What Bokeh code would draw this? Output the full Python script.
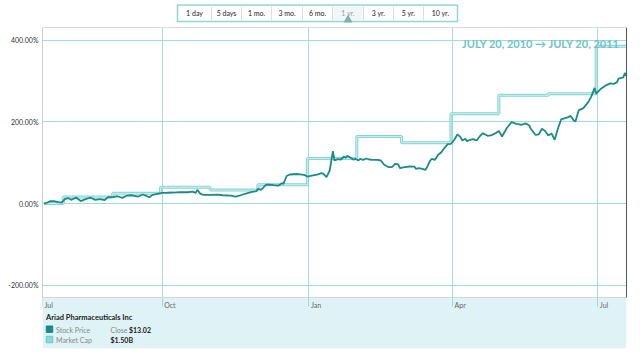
import pandas as pd
from bokeh.plotting import figure
from bokeh.models import (Range1d, FixedTicker, PrintfTickFormatter,
                          LinearAxis, Label, Span)
from bokeh.core.properties import value
from bokeh.embed import file_html
from bokeh.resources import INLINE

# ---------------- data ----------------
range_buttons = ["1 day", "5 days", "1 mo.", "3 mo.", "6 mo.", "1 yr.", "3 yr.", "5 yr.", "10 yr."]
selected_button = "1 yr."

period_title = "JULY 20, 2010 \u2192 JULY 20, 2011"
company = "Ariad Pharmaceuticals Inc"
series_names = ["Stock Price", "Market Cap"]
close_label = "Close"
close_price = "$13.02"
market_cap = "$1.50B"

price_dates = [
    "2010-07-19", "2010-07-21", "2010-07-23", "2010-07-25", "2010-07-28", "2010-07-30",
    "2010-08-01", "2010-08-03", "2010-08-05", "2010-08-08", "2010-08-11", "2010-08-14",
    "2010-08-17", "2010-08-20", "2010-08-23", "2010-08-26", "2010-08-28", "2010-08-31",
    "2010-09-03", "2010-09-06", "2010-09-09", "2010-09-12", "2010-09-16", "2010-09-19",
    "2010-09-21", "2010-09-23", "2010-09-25", "2010-09-28", "2010-10-01", "2010-10-04",
    "2010-10-08", "2010-10-12", "2010-10-17", "2010-10-20", "2010-10-22", "2010-10-23",
    "2010-10-25", "2010-10-27", "2010-10-31", "2010-11-05", "2010-11-08", "2010-11-13",
    "2010-11-16", "2010-11-19", "2010-11-24", "2010-11-27", "2010-11-29", "2010-11-30",
    "2010-12-02", "2010-12-05", "2010-12-07", "2010-12-10", "2010-12-13", "2010-12-15",
    "2010-12-16", "2010-12-18", "2010-12-20", "2010-12-25", "2010-12-29", "2010-12-31",
    "2011-01-02", "2011-01-06", "2011-01-09", "2011-01-10", "2011-01-12", "2011-01-14",
    "2011-01-16", "2011-01-17", "2011-01-19", "2011-01-21", "2011-01-23", "2011-01-24",
    "2011-01-25", "2011-01-27", "2011-01-29", "2011-01-30", "2011-02-01", "2011-02-02",
    "2011-02-04", "2011-02-06", "2011-02-08", "2011-02-10", "2011-02-13", "2011-02-15",
    "2011-02-17", "2011-02-20", "2011-02-22", "2011-02-24", "2011-02-26", "2011-02-27",
    "2011-03-02", "2011-03-05", "2011-03-08", "2011-03-09", "2011-03-11", "2011-03-13",
    "2011-03-15", "2011-03-16", "2011-03-18", "2011-03-19", "2011-03-21", "2011-03-23",
    "2011-03-25", "2011-03-27", "2011-03-29", "2011-03-31", "2011-04-02", "2011-04-04",
    "2011-04-06", "2011-04-07", "2011-04-09", "2011-04-10", "2011-04-12", "2011-04-14",
    "2011-04-16", "2011-04-18", "2011-04-20", "2011-04-23", "2011-04-25", "2011-04-28",
    "2011-04-30", "2011-05-02", "2011-05-05", "2011-05-08", "2011-05-11", "2011-05-13",
    "2011-05-14", "2011-05-17", "2011-05-19", "2011-05-20", "2011-05-23", "2011-05-25",
    "2011-05-27", "2011-05-29", "2011-05-31", "2011-06-02", "2011-06-04", "2011-06-06",
    "2011-06-08", "2011-06-12", "2011-06-14", "2011-06-16", "2011-06-17", "2011-06-19",
    "2011-06-22", "2011-06-25", "2011-06-27", "2011-06-29", "2011-06-30", "2011-07-03",
    "2011-07-06", "2011-07-09", "2011-07-11", "2011-07-13", "2011-07-14", "2011-07-17",
    "2011-07-18", "2011-07-19",
]
price_pct = [
    0.0, 2.5, 6.1, 5.8, 3.7, 2.5,
    11.0, 13.5, 9.1, 14.7, 6.1, 11.0,
    14.7, 9.1, 11.0, 8.6, 15.4, 15.9,
    17.9, 14.0, 19.6, 20.3, 17.2, 22.1,
    18.9, 15.4, 21.3, 23.8, 26.2, 26.5,
    27.0, 28.2, 27.7, 29.4, 26.2, 33.6,
    23.8, 21.3, 21.0, 22.1, 20.3, 19.6,
    17.2, 20.3, 26.2, 29.4, 30.1, 36.0,
    33.6, 45.8, 46.6, 44.9, 44.1, 49.8,
    48.3, 67.4, 71.1, 72.3, 70.3, 66.2,
    67.9, 71.1, 74.3, 72.8, 64.5, 80.9,
    128.2, 105.4, 108.6, 107.8, 115.2, 112.0,
    116.9, 112.0, 107.1, 109.6, 105.4, 109.6,
    107.1, 110.3, 107.8, 107.1, 107.0, 105.4,
    95.6, 89.0, 89.2, 97.3, 95.6, 86.5,
    89.0, 90.7, 90.5, 85.0, 86.5, 85.0,
    82.6, 89.0, 105.4, 109.6, 107.1, 119.4,
    125.7, 136.5, 145.3, 146.3, 155.6, 169.1,
    162.5, 154.4, 158.6, 152.7, 156.1, 157.6,
    154.4, 164.2, 172.3, 165.9, 166.7, 172.3,
    177.7, 164.2, 185.0, 199.3, 194.9, 193.6,
    192.4, 196.1, 191.2, 183.1, 167.9, 169.1,
    183.1, 177.7, 166.7, 171.6, 156.1, 183.1,
    205.9, 210.8, 214.5, 203.4, 201.0, 228.0,
    233.6, 248.3, 262.3, 283.1, 268.9, 281.1,
    289.2, 294.1, 292.9, 296.6, 305.6, 308.8,
    319.4, 313.7,
]

mcap_dates = ["2010-07-19", "2010-07-31", "2010-08-31", "2010-09-30", "2010-10-31",
              "2010-11-30", "2010-12-31", "2011-01-31", "2011-02-28", "2011-03-31",
              "2011-04-30", "2011-05-31", "2011-06-30", "2011-07-19"]
mcap_pct = [0, 16, 25, 40, 33, 46, 110, 164, 149, 220, 265, 269, 385, 385]

y_ticks = [-200, 0, 200, 400]
x_tick_dates = ["2010-07-18", "2010-10-01", "2011-01-01", "2011-04-01", "2011-07-01"]
x_tick_labels = ["Jul", "Oct", "Jan", "Apr", "Jul"]
x_start, x_end = "2010-07-18", "2011-07-19"
y_start, y_end = -230, 431          # the chart's plotting area

# ---------------- layout / styles ----------------
W, H = 640, 352
LEFT, RIGHT = 42, 626               # chart frame, px
TOP_BAR = 27                        # chart area starts below the range buttons
CHART_BOTTOM = 297                  # px where the legend band begins
BAND_BOTTOM = 348
FONT = "Lato"
STOCK_COLOR = "#1b8a8b"
MCAP_COLOR = "#84d3d5"
MCAP_INNER = "#d2f1f1"
GRID_COLOR = "#a3dcdd"
BAND_COLOR = "#dff2f5"
TITLE_COLOR = "#6cc3c7"


def ms(s):
    return pd.Timestamp(s).value / 1e6


# y range extended so that the plotting area [y_start, y_end] sits between
# TOP_BAR and CHART_BOTTOM while the frame covers the button bar and legend band too
ppu = (CHART_BOTTOM - TOP_BAR) / (y_end - y_start)
frame_top_val = y_end + TOP_BAR / ppu
frame_bot_val = y_start - (BAND_BOTTOM - CHART_BOTTOM) / ppu

p = figure(width=W, height=H, x_axis_type="datetime",
           x_range=Range1d(pd.Timestamp(x_start), pd.Timestamp(x_end)),
           y_range=Range1d(frame_bot_val, frame_top_val),
           toolbar_location=None, output_backend="svg",
           min_border_left=LEFT, min_border_right=W - RIGHT, min_border_top=0,
           min_border_bottom=H - BAND_BOTTOM)
p.outline_line_color = None
p.background_fill_color = "white"
p.border_fill_color = "white"
p.extra_x_ranges = {"px": Range1d(LEFT, RIGHT)}
p.extra_y_ranges = {"px": Range1d(BAND_BOTTOM, 0)}

pd_dates = pd.to_datetime(price_dates)
md_dates = pd.to_datetime(mcap_dates)

# grids
x_ticks_ms = [ms(d) for d in x_tick_dates]
p.xgrid.ticker = FixedTicker(ticks=x_ticks_ms[1:])
p.xgrid.grid_line_color = GRID_COLOR
p.ygrid.ticker = FixedTicker(ticks=y_ticks)
p.ygrid.grid_line_color = GRID_COLOR

# cover grid lines outside the plotting area (button bar and legend band)
p.quad(left=[LEFT], right=[RIGHT], top=[0], bottom=[TOP_BAR - 0.5], fill_color="white",
       line_color=None, x_range_name="px", y_range_name="px")
p.quad(left=[LEFT], right=[RIGHT], top=[CHART_BOTTOM], bottom=[BAND_BOTTOM],
       fill_color=BAND_COLOR, line_color=None, x_range_name="px", y_range_name="px")

# series
p.step(md_dates, mcap_pct, mode="after", line_color=MCAP_COLOR, line_width=3)
p.step(md_dates, mcap_pct, mode="after", line_color=MCAP_INNER, line_width=1)
p.line(pd_dates, price_pct, line_color=STOCK_COLOR, line_width=1.8)

# x axis inside the band (ticks + line); its labels sit just right of each tick
xa = p.xaxis[0]
xa.fixed_location = y_start
xa.ticker = FixedTicker(ticks=x_ticks_ms)
xa.major_label_overrides = {t: "" for t in x_ticks_ms}
xa.axis_line_color = "#cfd9d9"
xa.major_tick_out = 9
xa.major_tick_in = 0
xa.major_tick_line_color = "#9fdadb"
xa.minor_tick_out = 0
xa.minor_tick_in = 0
p.text(x=pd.to_datetime(x_tick_dates), y=[CHART_BOTTOM + 7] * len(x_tick_labels),
       text=x_tick_labels, x_offset=2, text_align="left", text_baseline="middle",
       text_font=value(FONT), text_font_size="7px", text_color="#666666",
       y_range_name="px")

ya = p.yaxis[0]
ya.bounds = (y_start, y_end)
ya.ticker = FixedTicker(ticks=y_ticks)
ya.formatter = PrintfTickFormatter(format="%.2f%%")
ya.axis_line_color = "#cccccc"
ya.major_tick_out = 0
ya.major_tick_in = 0
ya.minor_tick_out = 0
ya.minor_tick_in = 0
ya.major_label_standoff = 4
ya.major_label_text_font = FONT
ya.major_label_text_font_size = "7px"
ya.major_label_text_color = "#333333"

ra = LinearAxis(ticker=FixedTicker(ticks=[]), bounds=(y_start, y_end),
                axis_line_color="#555555",
                major_tick_out=0, major_tick_in=0, minor_tick_out=0, minor_tick_in=0,
                major_label_text_font_size="0px")
p.add_layout(ra, "right")
p.add_layout(Span(location=y_end, dimension="width", line_color="#d3e0e0", line_width=1))

p.add_layout(Label(x=ms("2011-07-15"), y=393, text=period_title, text_align="right",
                   text_baseline="alphabetic", text_font=FONT, text_font_size="11px",
                   text_font_style="bold", text_color=TITLE_COLOR))

# ---------------- range buttons ----------------
edges = [177, 211, 241, 271, 302, 332, 363, 393, 423, 457]
centers = [(a + b) / 2 for a, b in zip(edges[:-1], edges[1:])]
sel = range_buttons.index(selected_button)
kw = dict(x_range_name="px", y_range_name="px")
p.quad(left=[edges[0]], right=[edges[-1]], top=[4.5], bottom=[21],
       fill_color="white", line_color="#8fd8d9", line_width=1.5, **kw)
p.quad(left=[edges[sel] + 1], right=[edges[sel + 1] - 1], top=[6], bottom=[19.5],
       fill_color="#f3f6f6", line_color=None, **kw)
p.segment(x0=edges[1:-1], y0=[6] * 8, x1=edges[1:-1], y1=[19.5] * 8,
          line_color="#dcdcdc", line_width=1, **kw)
p.text(x=centers, y=[12.5] * len(centers), text=range_buttons,
       text_align="center", text_baseline="middle", text_font=value(FONT),
       text_font_size="7px",
       text_color=["#9a9a9a" if b == selected_button else "#222222" for b in range_buttons],
       **kw)
p.scatter(x=[centers[sel]], y=[19.3], marker="triangle", size=9,
          fill_color="#7fb0b1", line_color=None, **kw)

# ---------------- legend ----------------
p.text(x=[45.5], y=[316.7], text=[company], text_baseline="middle",
       text_font=value(FONT), text_font_size="7.5px", text_font_style="bold",
       text_color="#222222", **kw)
p.rect(x=[49, 49], y=[328.7, 339], width=6.5, height=6.5,
       fill_color=[STOCK_COLOR, "#8fd8d9"], line_color=["#167878", "#5fbfc1"],
       line_width=0.8, **kw)
p.text(x=[55.5, 55.5], y=[329, 339.5], text=series_names, text_baseline="middle",
       text_font=value(FONT), text_font_size="7px", text_color="#8a8a8a", **kw)
p.text(x=[110], y=[329], text=[close_label], text_baseline="middle",
       text_font=value(FONT), text_font_size="7px", text_color="#8a8a8a", **kw)
p.text(x=[128.5, 110], y=[329, 339.5], text=[close_price, market_cap],
       text_baseline="middle", text_font=value(FONT), text_font_size="7px",
       text_font_style="bold", text_color="#222222", **kw)

open("out.html", "w").write(file_html(p, INLINE))
